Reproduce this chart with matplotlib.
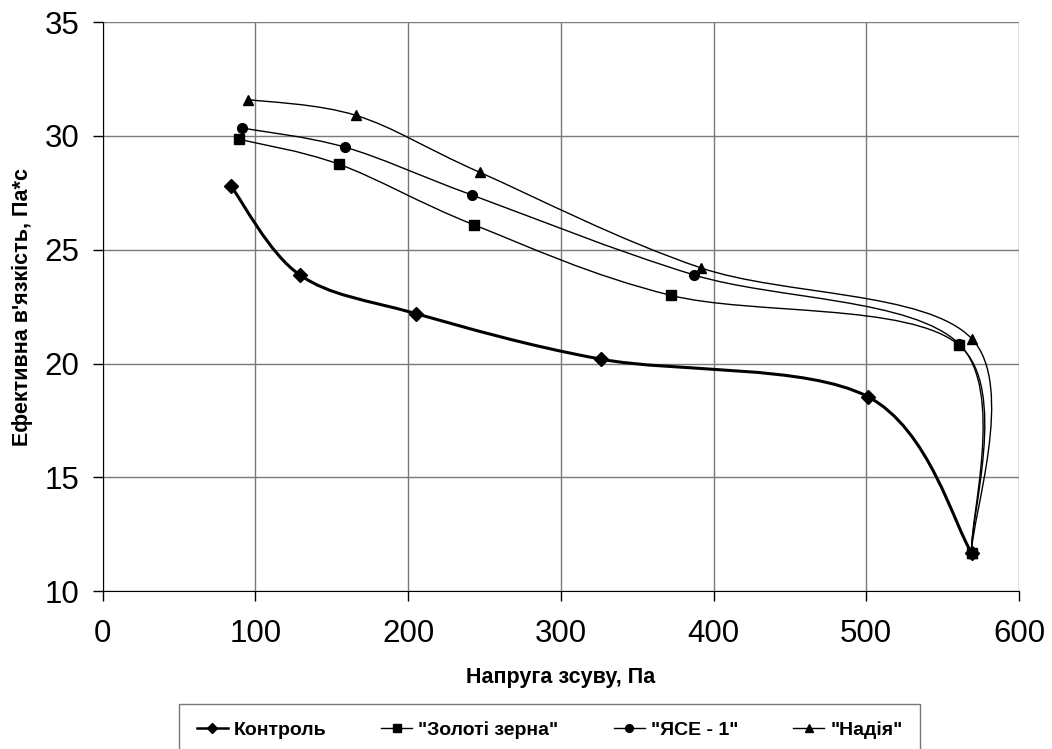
import matplotlib
matplotlib.use('Agg')
import matplotlib.pyplot as plt
from matplotlib.path import Path
from matplotlib.patches import PathPatch
from matplotlib.lines import Line2D

plt.rcParams['font.family'] = ['Liberation Sans', 'DejaVu Sans']

# values
control_x = [84, 129, 205, 326, 501, 569]
control_y = [27.8, 23.9, 22.2, 20.2, 18.55, 11.7]
zoloti_x = [89.5, 155, 243, 372, 561, 569]
zoloti_y = [29.85, 28.75, 26.1, 23.0, 20.8, 11.7]
yase_x = [91, 159, 242, 387, 561, 569]
yase_y = [30.35, 29.5, 27.4, 23.9, 20.85, 11.7]
nadia_x = [95, 166, 247, 392, 569, 569]
nadia_y = [31.6, 30.9, 28.4, 24.2, 21.1, 11.7]

labels = ['Контроль', '"Золоті зерна"', '"ЯСЕ - 1"', '"Надія"']
x_ticks = [0, 100, 200, 300, 400, 500, 600]
y_ticks = [10, 15, 20, 25, 30, 35]


def smooth_path(xs, ys):
    # Excel-like smoothed line: cubic bezier through the points
    pts = list(zip(xs, ys))
    n = len(pts)
    verts = [pts[0]]
    codes = [Path.MOVETO]
    for i in range(n - 1):
        p0 = pts[i - 1] if i > 0 else pts[i]
        p1 = pts[i]
        p2 = pts[i + 1]
        p3 = pts[i + 2] if i + 2 < n else pts[i + 1]
        c1 = (p1[0] + (p2[0] - p0[0]) / 6, p1[1] + (p2[1] - p0[1]) / 6)
        c2 = (p2[0] - (p3[0] - p1[0]) / 6, p2[1] - (p3[1] - p1[1]) / 6)
        verts += [c1, c2, p2]
        codes += [Path.CURVE4] * 3
    return Path(verts, codes)


fig = plt.figure(figsize=(10.52, 7.49), dpi=100)
ax = fig.add_axes([0.0976, 0.2105, 0.871, 0.760])

series = [
    (control_x, control_y, 'D', 7, 2.2),
    (zoloti_x, zoloti_y, 's', 6.5, 1.0),
    (yase_x, yase_y, 'o', 7, 1.0),
    (nadia_x, nadia_y, '^', 7, 1.0),
]

handles = []
for (xs, ys, mk, ms, lw), lab in zip(series, labels):
    ax.add_patch(PathPatch(smooth_path(xs, ys), fill=False, edgecolor='black', linewidth=lw, zorder=3))
    ax.plot(xs, ys, linestyle='none', marker=mk, markersize=ms, color='black', zorder=4)
    handles.append(Line2D([], [], color='black', linewidth=lw if lw < 2 else 1.8, marker=mk, markersize=ms * 0.8))

ax.set_xlim(0, 600)
ax.set_ylim(10, 35)
ax.set_xticks(x_ticks)
ax.set_yticks(y_ticks)
ax.grid(True, color='#7a7a7a', linewidth=1.0)
ax.set_axisbelow(True)
ax.spines['top'].set_visible(False)
ax.spines['right'].set_visible(False)
ax.spines['left'].set_color('black')
ax.spines['bottom'].set_color('black')
ax.tick_params(axis='both', direction='out', length=7, width=1, labelsize=22.5, colors='black')
ax.tick_params(axis='x', pad=13)
ax.tick_params(axis='y', pad=10)

ax.set_xlabel('Напруга зсуву, Па', fontsize=15.5, fontweight='bold', labelpad=13)
ax.set_ylabel("Ефективна в'язкість, Па*с", fontsize=15.5, fontweight='bold', labelpad=8)

leg = fig.legend(handles, labels, loc='upper left',
                 bbox_to_anchor=(179 / 1052, 1 - 704 / 749 - 0.1, 741 / 1052, 0.1),
                 mode='expand', ncol=4, frameon=True, fancybox=False,
                 borderaxespad=0, borderpad=0.9, handlelength=1.6, handletextpad=0.3,
                 prop={'size': 14, 'weight': 'bold'})
leg.get_frame().set_edgecolor('#555555')
leg.get_frame().set_linewidth(1.0)

plt.savefig('out.png', dpi=100)
